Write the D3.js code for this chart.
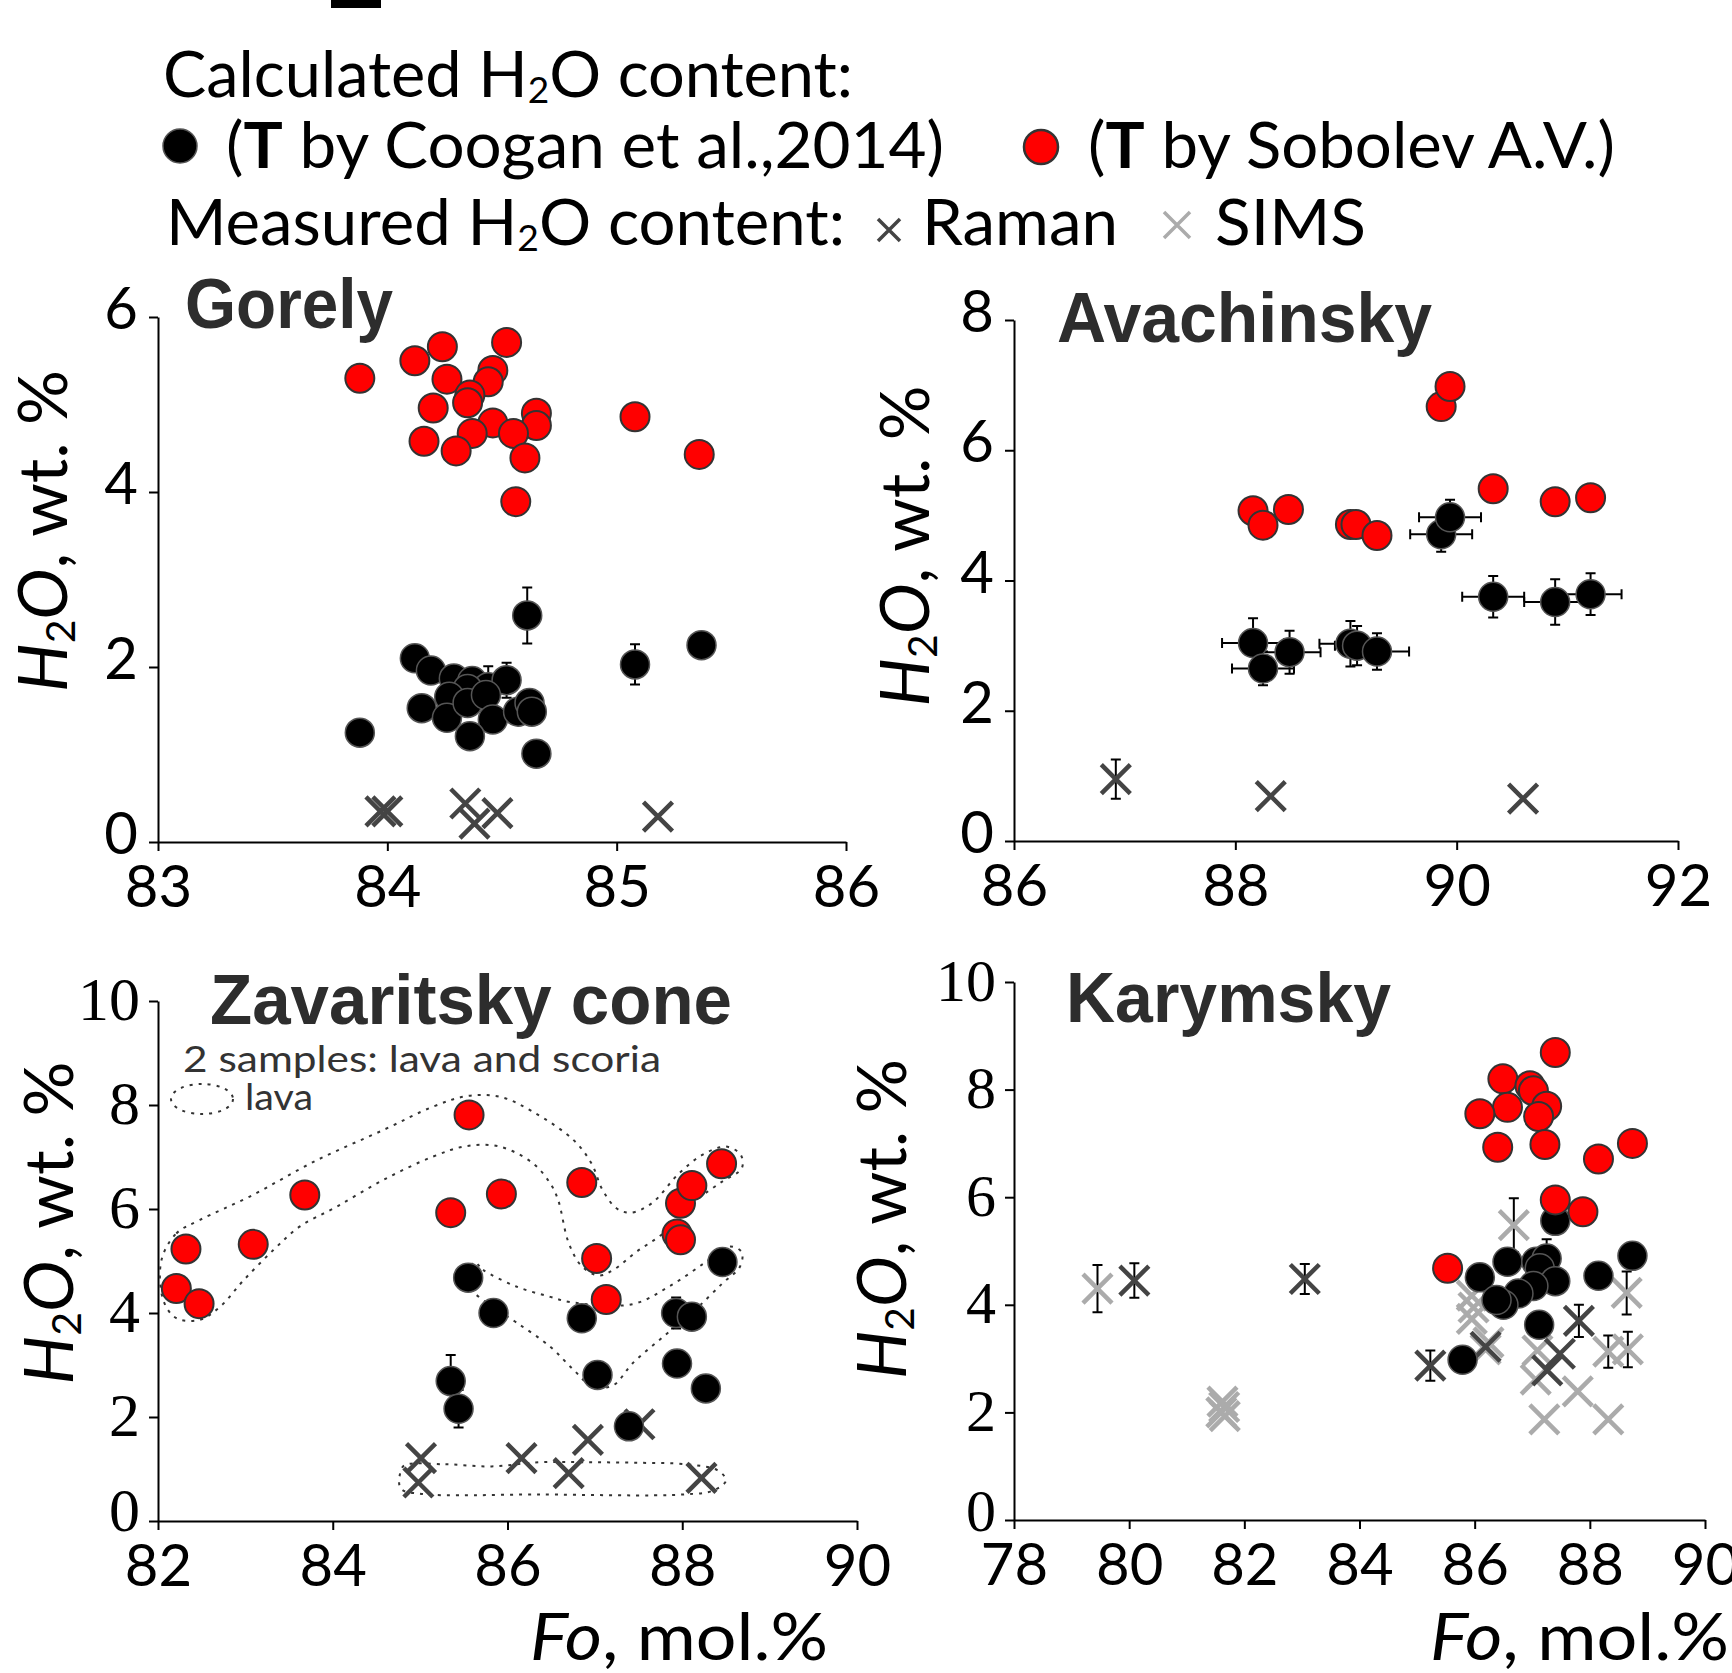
<!DOCTYPE html>
<html><head><meta charset="utf-8">
<script src="https://cdn.jsdelivr.net/npm/d3@7"></script>
<style>body{margin:0;background:#fff} svg{display:block}</style>
</head><body>
<svg id="c" width="1732" height="1673"></svg>
<script>
// ---------------- DATA ----------------
// [Fo, H2O, yErr]
const gorelyRed = [[83.88,5.30],[84.12,5.50],[84.24,5.66],[84.52,5.71],[84.26,5.29],[84.46,5.39],[84.44,5.26],[84.36,5.11],[84.35,5.02],[84.20,4.96],[84.65,4.90],[84.65,4.76],[84.46,4.79],[84.37,4.67],[84.16,4.58],[84.30,4.47],[84.55,4.67],[84.60,4.39],[84.56,3.89],[85.08,4.86],[85.36,4.43]];
const gorelyBlack = [[83.88,1.25,0],[84.12,2.10,0],[84.19,1.96,0],[84.29,1.87,0],[84.37,1.84,0],[84.44,1.77,0.24],[84.52,1.85,0.2],[84.35,1.75,0],[84.27,1.66,0],[84.15,1.53,0],[84.26,1.42,0],[84.35,1.59,0],[84.43,1.68,0],[84.46,1.40,0],[84.36,1.21,0],[84.57,1.49,0],[84.62,1.59,0],[84.63,1.49,0],[84.65,1.01,0],[84.61,2.59,0.32],[85.08,2.03,0.23],[85.37,2.25,0]];
const gorelyRaman = [[83.97,0.35,0],[84.00,0.35,0],[84.34,0.44,0],[84.38,0.21,0],[84.48,0.33,0],[85.18,0.29,0]];
const gorelyXTicks = [83,84,85,86];
const gorelyYTicks = [0,2,4,6];

// [Fo, H2O, xErr, yErr]
const avaRed = [[88.16,5.07],[88.25,4.85],[88.48,5.09],[89.04,4.86],[89.09,4.86],[89.28,4.69],[89.86,6.67],[89.94,6.98],[90.33,5.41],[90.89,5.21],[91.21,5.27]];
const avaBlack = [[88.16,3.04,0.28,0.38],[88.25,2.65,0.28,0.26],[88.49,2.90,0.28,0.33],[89.04,3.03,0.28,0.35],[89.10,3.00,0.2,0.30],[89.28,2.91,0.29,0.28],[89.86,4.71,0.28,0.27],[89.94,4.97,0.28,0.27],[90.33,3.75,0.28,0.32],[90.89,3.67,0.28,0.35],[91.21,3.79,0.28,0.32]];
const avaRaman = [[86.92,0.95,0.3],[88.32,0.69,0],[90.60,0.65,0]];
const avaXTicks = [86,88,90,92];
const avaYTicks = [0,2,4,6,8];

const zavRed = [[82.21,4.47],[82.32,5.23],[82.47,4.18],[83.09,5.32],[83.68,6.27],[85.56,7.81],[85.35,5.93],[85.93,6.29],[86.85,6.51],[87.02,5.05],[87.13,4.26],[87.98,6.11],[88.11,6.45],[88.45,6.87],[87.94,5.52],[87.98,5.41]];
const zavBlack = [[85.55,4.68,0],[85.84,4.00,0],[85.35,2.69,0.5],[85.44,2.16,0.36],[86.85,3.90,0],[87.03,2.81,0],[87.39,1.82,0],[87.94,3.03,0],[87.93,4.00,0.3],[88.11,3.93,0],[88.27,2.55,0],[88.46,4.98,0]];
const zavRaman = [[87.51,1.86,0],[85.01,1.21,0],[84.98,0.74,0],[86.16,1.21,0],[86.70,0.92,0],[86.92,1.56,0],[88.22,0.83,0]];
const zavXTicks = [82,84,86,88,90];
const zavYTicks = [0,2,4,6,8,10];
// dotted "lava" outlines, in Fo / H2O units
const zavOutlineUpper = [[82.04,5.02],[82.21,5.53],[82.48,5.79],[83.05,6.24],[83.82,6.94],[84.58,7.52],[85.15,7.97],[85.53,8.17],[85.91,8.16],[86.29,7.87],[86.76,7.32],[86.96,6.88],[87.09,6.36],[87.25,6.01],[87.41,5.93],[87.65,6.11],[87.96,6.68],[88.23,7.04],[88.50,7.20],[88.67,7.04],[88.68,6.78],[88.45,6.52],[88.14,6.14],[87.78,5.53],[87.47,5.17],[87.23,4.85],[87.05,4.72],[86.85,4.90],[86.70,5.35],[86.58,6.17],[86.49,6.49],[86.29,6.88],[85.91,7.20],[85.53,7.21],[85.15,7.01],[84.58,6.56],[84.04,6.04],[83.62,5.66],[83.32,5.21],[82.98,4.63],[82.71,4.12],[82.48,3.87],[82.21,3.90],[82.06,4.25]];
const zavOutlineMiddle = [[85.62,4.98],[85.72,4.83],[86.10,4.51],[86.49,4.31],[86.72,4.21],[87.43,4.17],[87.87,4.53],[88.27,4.98],[88.54,5.28],[88.68,5.17],[88.66,4.89],[88.46,4.57],[88.14,4.05],[87.78,3.54],[87.43,3.03],[87.21,2.61],[86.98,2.58],[86.76,2.90],[86.49,3.35],[86.10,3.82],[85.80,4.15],[85.55,4.55]];
const zavOutlineLower = [[84.82,1.07],[85.29,1.09],[85.82,1.05],[86.36,1.13],[86.89,1.13],[87.47,1.12],[88.05,1.09],[88.41,0.97],[88.50,0.78],[88.36,0.59],[88.01,0.51],[86.36,0.51],[85.02,0.52],[84.78,0.62],[84.77,0.91]];

const karRed = [[87.40,8.69],[86.49,8.20],[86.96,8.07],[87.02,7.98],[87.25,7.69],[86.57,7.67],[86.09,7.55],[87.11,7.50],[86.40,6.93],[87.22,6.98],[88.15,6.71],[88.74,7.00],[87.40,5.95],[87.88,5.73],[85.53,4.68]];
const karBlack = [[87.40,5.56,0],[88.74,4.91,0],[88.15,4.54,0],[86.09,4.51,0],[86.57,4.80,0],[87.07,4.80,0],[87.25,4.86,0.36],[87.13,4.68,0],[87.40,4.44,0],[87.02,4.35,0],[86.76,4.21,0],[86.50,4.00,0],[86.38,4.09,0],[87.12,3.63,0],[85.79,2.98,0]];
const karRaman = [[80.09,4.45,0.32],[83.05,4.48,0.28],[85.23,2.87,0.28],[87.26,2.78,0],[87.48,3.09,0],[87.81,3.70,0.3],[86.19,3.22,0]];
const karSims = [[79.45,4.30,0.44],[81.62,2.20,0],[81.65,2.10,0],[81.60,2.00,0],[81.66,1.93,0],[86.68,5.48,0.5],[85.95,4.17,0],[85.98,3.95,0],[85.95,3.74,0],[86.19,3.17,0],[86.24,3.30,0],[87.09,3.15,0],[87.06,2.61,0],[87.21,1.87,0],[87.79,2.39,0],[88.32,1.87,0],[88.32,3.13,0.3],[88.66,3.17,0.33],[88.64,4.22,0.4]];
const karXTicks = [78,80,82,84,86,88,90];
const karYTicks = [0,2,4,6,8,10];

const titles = ["Gorely","Avachinsky","Zavaritsky cone","Karymsky"];

// ---------------- DRAWING ----------------
const SANS = "Lato, 'Open Sans', 'Liberation Sans', sans-serif";
const SERIF = "'Liberation Serif', 'Times New Roman', serif";
const BOLD = "'Liberation Sans', Arial, sans-serif";
const RED = "#ff0000", DARKX = "#444444", LIGHTX = "#ababab";
const R = 14.5, XH = 14.5;
const svg = d3.select('#c');

function crossPath(cx, cy, h) {
  return `M${cx-h},${cy-h}L${cx+h},${cy+h}M${cx-h},${cy+h}L${cx+h},${cy-h}`;
}

function drawPanel(p) {
  const x = d3.scaleLinear().domain(p.xDomain).range(p.xRange);
  const y = d3.scaleLinear().domain(p.yDomain).range(p.yRange);
  const g = svg.append('g');

  const xa = g.append('g').attr('transform', `translate(0,${p.yRange[0]})`)
    .call(d3.axisBottom(x).tickValues(p.xTicks).tickSize(9).tickSizeOuter(0).tickPadding(15).tickFormat(d3.format('d')));
  const ya = g.append('g').attr('transform', `translate(${p.xRange[0]},0)`)
    .call(d3.axisLeft(y).tickValues(p.yTicks).tickSize(9).tickSizeOuter(0).tickPadding(p.yPad).tickFormat(d3.format('d')));
  [xa, ya].forEach(a => {
    a.select('.domain').attr('stroke', '#000').attr('stroke-width', 2);
    a.selectAll('.tick line').attr('stroke', '#000').attr('stroke-width', 2);
    a.selectAll('.tick text').attr('fill', '#000');
  });
  xa.attr('font-family', SANS).attr('font-size', 58);
  ya.attr('font-family', p.yFont).attr('font-size', p.yFontSize);
  ya.selectAll('.tick text').attr('dy', d => (d === 0 && p.yDy0) ? p.yDy0 : p.yDy);

  const line = d3.line().x(d => x(d[0])).y(d => y(d[1])).curve(d3.curveCatmullRomClosed.alpha(0.5));
  (p.outlines || []).forEach(o => {
    g.append('path').attr('d', line(o)).attr('fill', 'none').attr('stroke', '#333')
      .attr('stroke-width', 2).attr('stroke-dasharray', '3,6');
  });

  function errY(fx, fy, e) {
    const cx = x(fx), y0 = y(fy - e), y1 = y(fy + e);
    g.append('path').attr('d', `M${cx},${y0}V${y1}M${cx-5},${y0}H${cx+5}M${cx-5},${y1}H${cx+5}`)
      .attr('stroke', '#000').attr('stroke-width', 2).attr('fill', 'none');
  }
  function errX(fx, fy, e) {
    const cy = y(fy), x0 = x(fx - e), x1 = x(fx + e);
    g.append('path').attr('d', `M${x0},${cy}H${x1}M${x0},${cy-5}V${cy+5}M${x1},${cy-5}V${cy+5}`)
      .attr('stroke', '#000').attr('stroke-width', 2).attr('fill', 'none');
  }
  function crosses(data, color) {
    data.forEach(d => { if (d[2]) errY(d[0], d[1], d[2]); });
    g.append('g').selectAll('path').data(data).join('path')
      .attr('d', d => crossPath(x(d[0]), y(d[1]), XH))
      .attr('stroke', color).attr('stroke-width', 4.5).attr('fill', 'none');
  }
  if (p.sims) crosses(p.sims, LIGHTX);
  if (p.raman) crosses(p.raman, DARKX);

  p.black.forEach(d => {
    if (p.xyErr) { errX(d[0], d[1], d[2]); errY(d[0], d[1], d[3]); }
    else if (d[2]) errY(d[0], d[1], d[2]);
  });
  g.append('g').selectAll('circle').data(p.black).join('circle')
    .attr('cx', d => x(d[0])).attr('cy', d => y(d[1])).attr('r', R)
    .attr('fill', '#000').attr('stroke', '#555').attr('stroke-width', 1.5);
  g.append('g').selectAll('circle').data(p.red).join('circle')
    .attr('cx', d => x(d[0])).attr('cy', d => y(d[1])).attr('r', R)
    .attr('fill', RED).attr('stroke', '#333').attr('stroke-width', 2);

  g.append('text').attr('x', p.title[1]).attr('y', p.title[2]).text(p.title[0])
    .attr('font-family', BOLD).attr('font-weight', 'bold').attr('font-size', 71)
    .attr('fill', '#2d2d2d').attr('textLength', p.title[3]).attr('lengthAdjust', 'spacingAndGlyphs');

  const yl = g.append('text').attr('transform', `translate(${p.yLab[0]},${p.yLab[1]}) rotate(-90)`)
    .attr('text-anchor', 'middle').attr('font-family', SANS).attr('font-size', 67).attr('fill', '#000')
    .attr('textLength', p.yLab[2]).attr('lengthAdjust', 'spacingAndGlyphs');
  yl.append('tspan').attr('font-style', 'italic').text('H');
  yl.append('tspan').attr('font-size', 40).attr('dy', 8).text('2');
  yl.append('tspan').attr('font-style', 'italic').attr('dy', -8).text('O');
  yl.append('tspan').text(', wt. %');

  if (p.xLab) {
    const xl = g.append('text').attr('x', p.xLab[0]).attr('y', p.xLab[1])
      .attr('font-family', SANS).attr('font-size', 66).attr('fill', '#000')
      .attr('textLength', p.xLab[2]).attr('lengthAdjust', 'spacingAndGlyphs');
    xl.append('tspan').attr('font-style', 'italic').text('Fo');
    xl.append('tspan').text(', mol.%');
  }
}

drawPanel({xDomain:[83,86], xRange:[158,846], yDomain:[0,6], yRange:[842,317],
  xTicks: gorelyXTicks, yTicks: gorelyYTicks, yFont: SANS, yFontSize: 58, yPad: 11, yDy: '0.2em',
  red: gorelyRed, black: gorelyBlack, raman: gorelyRaman,
  title: [titles[0], 185, 328, 208], yLab: [67, 531, 322]});

drawPanel({xDomain:[86,92], xRange:[1014,1678], yDomain:[0,8], yRange:[841,320],
  xTicks: avaXTicks, yTicks: avaYTicks, yFont: SANS, yFontSize: 58, yPad: 11, yDy: '0.2em',
  red: avaRed, black: avaBlack, raman: avaRaman, xyErr: true,
  title: [titles[1], 1057, 342, 375], yLab: [929, 546, 321]});

drawPanel({xDomain:[82,90], xRange:[158,857], yDomain:[0,10], yRange:[1521,1001],
  xTicks: zavXTicks, yTicks: zavYTicks, yFont: SERIF, yFontSize: 62, yPad: 9, yDy: '0.3em', yDy0: '0.16em',
  red: zavRed, black: zavBlack, raman: zavRaman,
  outlines: [zavOutlineUpper, zavOutlineMiddle, zavOutlineLower],
  title: [titles[2], 210, 1024, 522], yLab: [73, 1223, 323], xLab: [530, 1660, 298]});

drawPanel({xDomain:[78,90], xRange:[1014,1705], yDomain:[0,10], yRange:[1520,982],
  xTicks: karXTicks, yTicks: karYTicks, yFont: SERIF, yFontSize: 60, yPad: 9, yDy: '0.3em', yDy0: '0.18em',
  red: karRed, black: karBlack, raman: karRaman, sims: karSims,
  title: [titles[3], 1066, 1022, 325], yLab: [906, 1219, 320], xLab: [1430, 1660, 299]});

// Zavaritsky annotation
svg.append('text').attr('x', 183).attr('y', 1072).text('2 samples: lava and scoria')
  .attr('font-family', SANS).attr('font-size', 37).attr('fill', '#333')
  .attr('textLength', 478).attr('lengthAdjust', 'spacingAndGlyphs');
svg.append('ellipse').attr('cx', 202).attr('cy', 1099).attr('rx', 31).attr('ry', 15)
  .attr('fill', 'none').attr('stroke', '#333').attr('stroke-width', 2).attr('stroke-dasharray', '3,6');
svg.append('text').attr('x', 245).attr('y', 1110).text('lava')
  .attr('font-family', SANS).attr('font-size', 37).attr('fill', '#333')
  .attr('textLength', 68).attr('lengthAdjust', 'spacingAndGlyphs');

// ---------------- LEGEND ----------------
svg.append('rect').attr('x', 331).attr('y', 0).attr('width', 50).attr('height', 8).attr('fill', '#000');

function h2oText(xp, yp, pre, post, w) {
  const t = svg.append('text').attr('x', xp).attr('y', yp).attr('font-family', SANS)
    .attr('font-size', 63).attr('fill', '#000').attr('textLength', w).attr('lengthAdjust', 'spacingAndGlyphs');
  t.append('tspan').text(pre + 'H');
  t.append('tspan').attr('font-size', 36).attr('dy', 6).text('2');
  t.append('tspan').attr('dy', -6).text('O' + post);
}
h2oText(163, 97, 'Calculated ', ' content:', 690);

svg.append('circle').attr('cx', 180).attr('cy', 146).attr('r', 17).attr('fill', '#000').attr('stroke', '#555').attr('stroke-width', 1.5);
function tText(xp, yp, rest, w) {
  const t = svg.append('text').attr('x', xp).attr('y', yp).attr('font-family', SANS)
    .attr('font-size', 63).attr('fill', '#000').attr('textLength', w).attr('lengthAdjust', 'spacingAndGlyphs');
  t.append('tspan').text('(');
  t.append('tspan').attr('font-weight', 'bold').text('T');
  t.append('tspan').text(rest);
}
tText(226, 168, ' by Coogan et al.,2014)', 718);
svg.append('circle').attr('cx', 1041).attr('cy', 147).attr('r', 17).attr('fill', RED).attr('stroke', '#333').attr('stroke-width', 2.5);
tText(1088, 168, ' by Sobolev A.V.)', 527);

h2oText(166, 245, 'Measured ', ' content:', 679);
svg.append('path').attr('d', crossPath(889, 230, 11)).attr('stroke', DARKX).attr('stroke-width', 3.5).attr('fill', 'none');
svg.append('text').attr('x', 922).attr('y', 245).text('Raman').attr('font-family', SANS)
  .attr('font-size', 63).attr('fill', '#000').attr('textLength', 196).attr('lengthAdjust', 'spacingAndGlyphs');
svg.append('path').attr('d', crossPath(1177, 225, 13)).attr('stroke', LIGHTX).attr('stroke-width', 3.5).attr('fill', 'none');
svg.append('text').attr('x', 1215).attr('y', 245).text('SIMS').attr('font-family', SANS)
  .attr('font-size', 63).attr('fill', '#000').attr('textLength', 151).attr('lengthAdjust', 'spacingAndGlyphs');
</script>
</body></html>
